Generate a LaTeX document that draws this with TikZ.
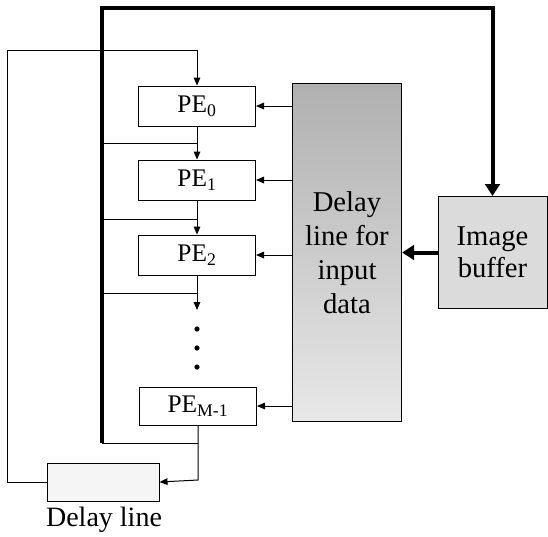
\documentclass[tikz,border=0pt]{standalone}
\usepackage{fontspec}
\setmainfont{Liberation Serif}
\usetikzlibrary{arrows.meta}

\tikzset{every picture/.style={line width=0.75pt}}
\tikzset{
  pebox/.style={draw, minimum width=87.75pt, minimum height=30pt, inner sep=0pt, font=\fontsize{19}{21}\selectfont},
  thinarrow/.style={-{Triangle[length=6pt,width=5pt]}},
  busline/.style={line width=3pt},
  busarrow/.style={line width=3pt, -{Triangle[length=9pt,width=11pt]}},
  bigtext/.style={align=center, inner sep=0pt, font=\fontsize{21.5}{25.5}\selectfont}
}

\begin{document}
\begin{tikzpicture}[x=0.75pt,y=0.75pt,yscale=-1,xscale=1]
\useasboundingbox (0,0) rectangle (548,536);

%Flowchart: Process boxes
\node [pebox] (pe0) at (197,106) {PE\textsubscript{0}};
\node [pebox] (pe1) at (197,180) {PE\textsubscript{1}};
\node [pebox] (pe2) at (197,255) {PE\textsubscript{2}};
\node [pebox, minimum height=28.5pt] (pem) at (198,406) {PE\textsubscript{M-1}};
%Shaded boxes
\node [draw, top color=gray!62, bottom color=gray!18, minimum width=82pt, minimum height=254pt, bigtext] (dinput) at (347,252.5) {Delay\\line for\\input\\data};
\node [draw, fill=gray!28, minimum width=81.75pt, minimum height=84pt, bigtext, font=\fontsize{21.5}{24}\selectfont] (imgbuf) at (492.5,252.5) {Image\\buffer};
\node [draw, fill=gray!8, minimum width=84pt, minimum height=28.5pt, inner sep=0pt] (dline) at (103,482) {};

%Coordinates
\coordinate (bustop) at (102,8);
\coordinate (busbot) at (102,443);
\coordinate (fbtop) at (7,50);
\coordinate (pe2out) at (197,310);
\coordinate (pemout) at (198,480);

%Thick bus
\draw [busarrow] (busbot) -- (bustop) -| (imgbuf.north) ;
\draw [busarrow] (imgbuf.west) -- (dinput.east) ;

%Straight Lines from bus
\draw (102,143) -- (197,143) ;
\draw (102,219) -- (197,219) ;
\draw (102,293) -- (197,293) ;
\draw (busbot) -- (198,443) ;

%Vertical chain
\draw [thinarrow] (pe0.south) -- (pe1.north) ;
\draw [thinarrow] (pe1.south) -- (pe2.north) ;
\draw [thinarrow] (pe2.south) -- (pe2out) ;
\foreach \y in {329,348,367}
  \fill (197,\y) circle (2.6) ;
\draw [thinarrow] (pem.south) -- (pemout) -- (dline.east) ;

%Feedback line
\draw [thinarrow] (dline.west) -- (fbtop |- dline.west) -- (fbtop) -| (pe0.north) ;

%Input data lines
\foreach \p in {pe0,pe1,pe2,pem}
  \draw [thinarrow] (dinput.west |- \p.east) -- (\p.east) ;

% Text Node
\node [inner sep=0pt, font=\fontsize{21}{24}\selectfont] (dlinetext) at (104,520) {Delay line};

\end{tikzpicture}
\end{document}
